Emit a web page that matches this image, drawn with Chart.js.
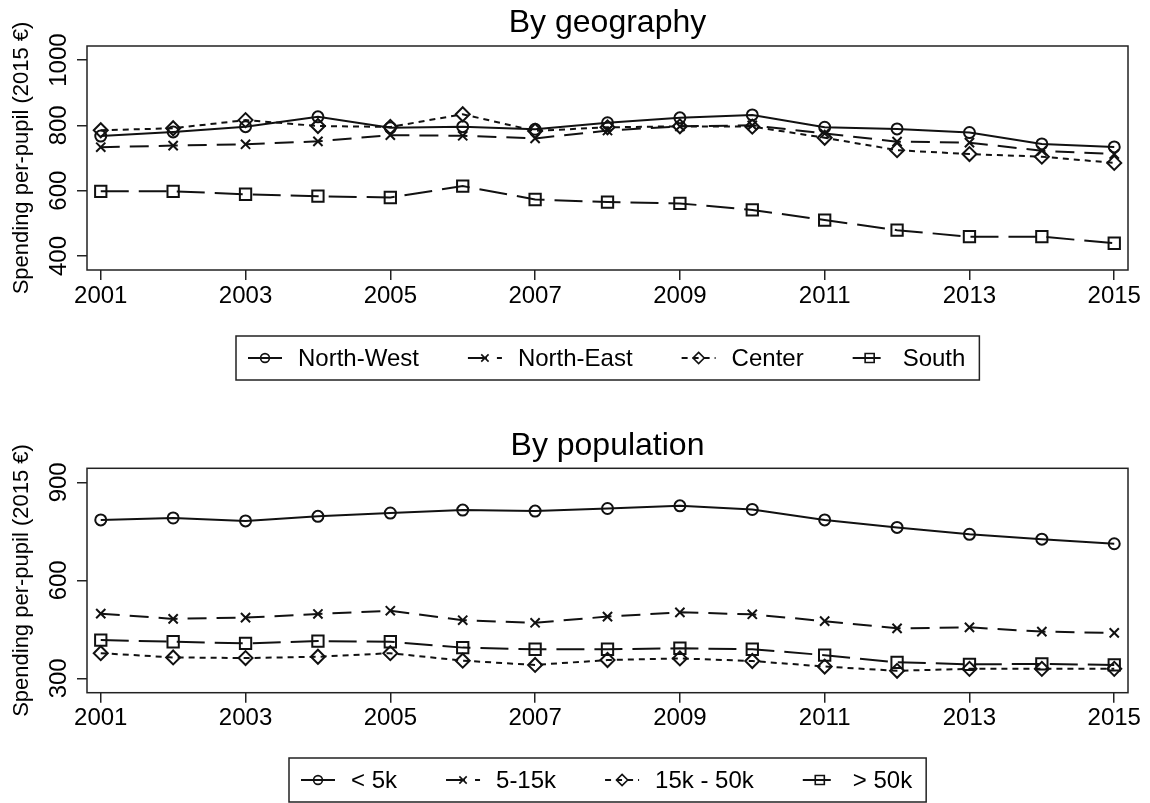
<!DOCTYPE html>
<html lang="en">
<head>
    <meta charset="UTF-8">
    <title>Spending per-pupil</title>
    <script src="https://cdn.jsdelivr.net/npm/chart.js@4.4.0/dist/chart.umd.min.js"></script>
    <style>
        body { margin: 0; background: #fff; }
        canvas { display: block; }
    </style>
</head>
<body>
<canvas id="chart01" width="1150" height="400"></canvas>
<canvas id="chart02" width="1150" height="403"></canvas>

<script>
    // ---------------- data ----------------
    var years = [2001, 2002, 2003, 2004, 2005, 2006, 2007, 2008, 2009, 2010, 2011, 2012, 2013, 2014, 2015];
    var yearTicks = [2001, 2003, 2005, 2007, 2009, 2011, 2013, 2015];

    // by geography
    var northWest = [767, 780, 796, 826, 793, 796, 788, 808, 823, 832, 794, 789, 778, 743, 734];
    var northEast = [733, 738, 742, 751, 770, 768, 760, 784, 797, 800, 775, 750, 747, 722, 712];
    var center    = [785, 791, 816, 798, 795, 834, 783, 794, 797, 796, 762, 724, 712, 704, 685];
    var south     = [598, 598, 589, 583, 579, 614, 573, 565, 561, 541, 510, 479, 459, 459, 439];
    var geoTicks = [400, 600, 800, 1000];

    // by population
    var under5k   = [785, 791, 782, 796, 806, 815, 812, 820, 828, 817, 785, 762, 741, 726, 712];
    var from5to15 = [498, 482, 486, 497, 507, 478, 470, 489, 502, 496, 475, 453, 456, 443, 439];
    var from15to50 = [377, 364, 362, 366, 377, 354, 341, 356, 361, 353, 336, 323, 329, 329, 329];
    var over50k   = [417, 412, 407, 414, 412, 394, 389, 389, 392, 389, 371, 349, 343, 344, 341];
    var popTicks = [300, 600, 900];

    var FONT = '"Liberation Sans", Arial, Helvetica, sans-serif';
    var INK = '#111';

    function points(vals) {
        return years.map(function (y, i) { return {x: y, y: vals[i]}; });
    }

    // line + marker styles, same order in both panels
    var styles = [
        {pointStyle: 'circle', pointRadius: 5.5, borderDash: []},
        {pointStyle: 'crossRot', pointRadius: 6.5, borderDash: [19, 10]},
        {pointStyle: 'rectRot', pointRadius: 7, borderDash: [6, 5]},
        {pointStyle: 'rect', pointRadius: 8, borderDash: [28, 10]}
    ];

    function makeDatasets(labels, series) {
        return series.map(function (vals, i) {
            var s = styles[i];
            return {
                label: labels[i],
                data: points(vals),
                borderColor: INK,
                borderWidth: 2,
                borderDash: s.borderDash,
                pointStyle: s.pointStyle,
                pointRadius: s.pointRadius,
                pointHoverRadius: s.pointRadius,
                pointBorderWidth: 2,
                pointBorderColor: INK,
                pointBackgroundColor: 'rgba(0,0,0,0)',
                fill: false,
                tension: 0
            };
        });
    }

    // small marker drawer for the legend
    function drawMarker(ctx, style, x, y, r) {
        ctx.beginPath();
        if (style === 'circle') {
            ctx.arc(x, y, r, 0, Math.PI * 2);
        } else if (style === 'crossRot') {
            var d = r * Math.SQRT1_2;
            ctx.moveTo(x - d, y - d); ctx.lineTo(x + d, y + d);
            ctx.moveTo(x + d, y - d); ctx.lineTo(x - d, y + d);
        } else if (style === 'rectRot') {
            ctx.moveTo(x, y - r); ctx.lineTo(x + r, y); ctx.lineTo(x, y + r); ctx.lineTo(x - r, y);
            ctx.closePath();
        } else {
            var h = r * Math.SQRT1_2;
            ctx.rect(x - h, y - h, 2 * h, 2 * h);
        }
        ctx.stroke();
    }

    // frame round the plot region
    var frame = {
        id: 'frame',
        beforeDatasetsDraw: function (chart) {
            var a = chart.chartArea, ctx = chart.ctx;
            ctx.save();
            ctx.strokeStyle = '#222';
            ctx.lineWidth = 1.5;
            ctx.strokeRect(a.left, a.top, a.right - a.left, a.bottom - a.top);
            ctx.restore();
        }
    };

    // vertical (rotated) y tick labels, centred on each tick of the y scale
    var yLabels = {
        id: 'yLabels',
        afterDraw: function (chart) {
            var s = chart.scales.y, ctx = chart.ctx;
            ctx.save();
            ctx.font = '24px ' + FONT;
            ctx.fillStyle = '#000';
            ctx.textAlign = 'center';
            ctx.textBaseline = 'middle';
            s.ticks.forEach(function (t) {
                var py = s.getPixelForValue(t.value);
                ctx.save();
                ctx.translate(s.right - 28, py);
                ctx.rotate(-Math.PI / 2);
                ctx.fillText(String(t.value), 0, 0);
                ctx.restore();
            });
            ctx.restore();
        }
    };

    // legend in a box below the plot (line + marker + label)
    var boxLegend = {
        id: 'boxLegend',
        afterDraw: function (chart, args, opts) {
            var ctx = chart.ctx, a = chart.chartArea;
            ctx.save();
            ctx.font = '24px ' + FONT;
            var symW = 34, symGap = 16, itemGap = 49, padL = 12, padR = 14, h = 44;
            var items = chart.data.datasets.map(function (ds) {
                return {ds: ds, w: ctx.measureText(ds.label).width};
            });
            var total = padL + padR;
            items.forEach(function (it, i) { total += symW + symGap + it.w + (i ? itemGap : 0); });
            var left = Math.round((a.left + a.right) / 2 - total / 2);
            var top = opts.y;
            ctx.strokeStyle = '#222';
            ctx.lineWidth = 1.5;
            ctx.strokeRect(left, top, total, h);

            var x = left + padL, cy = top + h / 2;
            items.forEach(function (it) {
                var ds = it.ds;
                ctx.strokeStyle = INK;
                ctx.lineWidth = 2;
                ctx.setLineDash(ds.borderDash);
                ctx.beginPath();
                ctx.moveTo(x, cy);
                ctx.lineTo(x + symW, cy);
                ctx.stroke();
                ctx.setLineDash([]);
                ctx.lineWidth = 1.6;
                drawMarker(ctx, ds.pointStyle, x + symW / 2, cy, ds.pointRadius * 0.8);
                ctx.fillStyle = '#000';
                ctx.textAlign = 'left';
                ctx.textBaseline = 'middle';
                ctx.fillText(ds.label, x + symW + symGap, cy + 1);
                x += symW + symGap + it.w + itemGap;
            });
            ctx.restore();
        }
    };

    function makeChart(id, cfg) {
        return new Chart(document.getElementById(id), {
            type: 'line',
            data: {datasets: makeDatasets(cfg.labels, cfg.series)},
            plugins: [frame, yLabels, boxLegend],
            options: {
                responsive: false,
                animation: false,
                events: [],
                layout: {padding: {left: 0, right: 22, top: 0, bottom: cfg.padBottom}},
                plugins: {
                    legend: {display: false},
                    tooltip: {enabled: false},
                    title: {
                        display: true,
                        fullSize: false,
                        text: cfg.title,
                        color: '#000',
                        font: {family: FONT, size: 32, weight: 'normal', lineHeight: 1.2},
                        padding: cfg.titlePad
                    },
                    boxLegend: {y: cfg.legendY}
                },
                scales: {
                    x: {
                        type: 'linear',
                        min: 2000.81,
                        max: 2015.19,
                        afterBuildTicks: function (s) {
                            s.ticks = yearTicks.map(function (v) { return {value: v}; });
                        },
                        afterFit: function (s) {
                            s.height = 40;
                            s.paddingLeft = 0;
                            s.paddingRight = 0;
                        },
                        grid: {display: true, drawOnChartArea: false, drawTicks: true, tickLength: 10, color: '#222', lineWidth: 1.5},
                        border: {display: false},
                        ticks: {
                            autoSkip: false,
                            maxRotation: 0,
                            padding: 1.6,
                            color: '#000',
                            font: {family: FONT, size: 24},
                            callback: function (v) { return String(v); }
                        }
                    },
                    y: {
                        min: cfg.yMin,
                        max: cfg.yMax,
                        afterBuildTicks: function (s) {
                            s.ticks = cfg.yTicks.map(function (v) { return {value: v}; });
                        },
                        afterFit: function (s) {
                            s.width = 87;
                            s.paddingTop = 0;
                            s.paddingBottom = 0;
                        },
                        grid: {display: true, drawOnChartArea: false, drawTicks: true, tickLength: 10, color: '#222', lineWidth: 1.5},
                        border: {display: false},
                        title: {
                            display: true,
                            text: 'Spending per-pupil (2015 €)',
                            color: '#000',
                            font: {family: FONT, size: 22, lineHeight: 1.2},
                            padding: {top: 9, bottom: 0}
                        },
                        // labels are drawn upright-rotated by the yLabels plugin
                        ticks: {display: false}
                    }
                }
            }
        });
    }

    makeChart('chart01', {
        title: 'By geography',
        labels: ['North-West', 'North-East', 'Center', 'South'],
        series: [northWest, northEast, center, south],
        yMin: 357, yMax: 1043, yTicks: geoTicks,
        titlePad: {top: 3.8, bottom: 3.8},
        padBottom: 90,
        legendY: 336
    });

    makeChart('chart02', {
        title: 'By population',
        labels: ['< 5k', '5-15k', '15k - 50k', '> 50k'],
        series: [under5k, from5to15, from15to50, over50k],
        yMin: 256, yMax: 943, yTicks: popTicks,
        titlePad: {top: 26.8, bottom: 3.1},
        padBottom: 70.3,
        legendY: 358
    });
</script>
</body>
</html>
